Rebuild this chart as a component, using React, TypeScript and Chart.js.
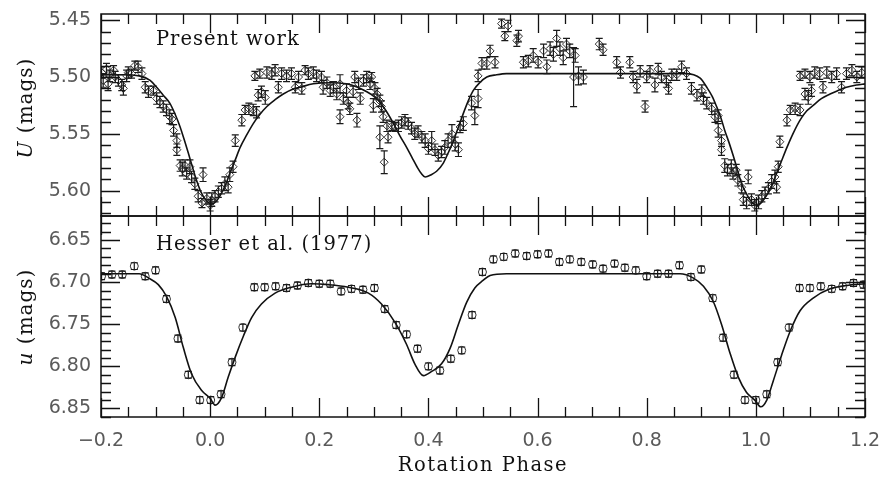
import React, { useEffect, useRef } from 'react';
import { Chart, registerables } from 'chart.js';

Chart.register(...registerables);

// ---------- data ----------
const xTicks = [-0.2, 0, 0.2, 0.4, 0.6, 0.8, 1.0, 1.2];
const topYTicks = [5.45, 5.5, 5.55, 5.6];
const bottomYTicks = [6.65, 6.7, 6.75, 6.8, 6.85];

// [phase, U mag, error]
const presentWork: [number, number, number][] = [
  [-0.199, 5.496, 0.005], [-0.196, 5.503, 0.006], [-0.190, 5.493, 0.005], [-0.187, 5.506, 0.006],
  [-0.184, 5.499, 0.005], [-0.177, 5.494, 0.004], [-0.174, 5.500, 0.005], [-0.168, 5.503, 0.005],
  [-0.162, 5.507, 0.005], [-0.159, 5.510, 0.006], [-0.153, 5.499, 0.005], [-0.150, 5.496, 0.005],
  [-0.144, 5.497, 0.004], [-0.138, 5.490, 0.004], [-0.132, 5.491, 0.005], [-0.125, 5.497, 0.005],
  [-0.119, 5.509, 0.005], [-0.113, 5.513, 0.005], [-0.104, 5.512, 0.004], [-0.098, 5.519, 0.005],
  [-0.092, 5.522, 0.005], [-0.086, 5.526, 0.005], [-0.080, 5.529, 0.005], [-0.074, 5.535, 0.006],
  [-0.070, 5.537, 0.005], [-0.067, 5.547, 0.005], [-0.061, 5.556, 0.006], [-0.061, 5.564, 0.005],
  [-0.055, 5.578, 0.005], [-0.051, 5.581, 0.006], [-0.046, 5.578, 0.005], [-0.043, 5.585, 0.005],
  [-0.037, 5.579, 0.006], [-0.034, 5.588, 0.005], [-0.028, 5.594, 0.005], [-0.022, 5.605, 0.005],
  [-0.015, 5.611, 0.004], [-0.013, 5.586, 0.006], [-0.006, 5.607, 0.005], [0.000, 5.613, 0.005],
  [0.003, 5.608, 0.006], [0.009, 5.605, 0.005], [0.015, 5.601, 0.005], [0.021, 5.598, 0.005],
  [0.027, 5.594, 0.006], [0.033, 5.597, 0.005], [0.036, 5.586, 0.006], [0.042, 5.579, 0.005],
  [0.046, 5.556, 0.005], [0.058, 5.538, 0.005], [0.064, 5.529, 0.004], [0.071, 5.528, 0.005],
  [0.079, 5.529, 0.005], [0.082, 5.499, 0.004], [0.085, 5.531, 0.005], [0.088, 5.516, 0.005],
  [0.091, 5.497, 0.004], [0.094, 5.513, 0.005], [0.101, 5.518, 0.006], [0.104, 5.496, 0.005],
  [0.113, 5.497, 0.005], [0.119, 5.494, 0.005], [0.125, 5.509, 0.005], [0.131, 5.497, 0.005],
  [0.140, 5.499, 0.005], [0.149, 5.497, 0.005], [0.156, 5.509, 0.005], [0.162, 5.500, 0.005],
  [0.168, 5.510, 0.005], [0.174, 5.494, 0.004], [0.180, 5.497, 0.005], [0.189, 5.496, 0.005],
  [0.195, 5.499, 0.005], [0.204, 5.500, 0.005], [0.207, 5.509, 0.006], [0.214, 5.505, 0.005],
  [0.220, 5.512, 0.005], [0.226, 5.509, 0.005], [0.232, 5.515, 0.005], [0.238, 5.506, 0.008],
  [0.238, 5.535, 0.006], [0.244, 5.519, 0.005], [0.250, 5.512, 0.006], [0.253, 5.523, 0.005],
  [0.256, 5.528, 0.005], [0.262, 5.513, 0.005], [0.265, 5.500, 0.005], [0.269, 5.538, 0.006],
  [0.272, 5.506, 0.005], [0.275, 5.519, 0.005], [0.281, 5.503, 0.005], [0.287, 5.500, 0.005],
  [0.293, 5.506, 0.005], [0.296, 5.500, 0.004], [0.299, 5.525, 0.006], [0.302, 5.510, 0.005],
  [0.306, 5.515, 0.005], [0.311, 5.521, 0.005], [0.311, 5.553, 0.010], [0.314, 5.526, 0.005],
  [0.317, 5.535, 0.005], [0.319, 5.575, 0.010], [0.324, 5.543, 0.005], [0.326, 5.553, 0.005],
  [0.333, 5.543, 0.004], [0.339, 5.544, 0.004], [0.345, 5.543, 0.005], [0.351, 5.540, 0.005],
  [0.357, 5.538, 0.005], [0.363, 5.541, 0.005], [0.369, 5.545, 0.005], [0.375, 5.550, 0.005],
  [0.381, 5.548, 0.005], [0.388, 5.553, 0.005], [0.394, 5.556, 0.006], [0.400, 5.563, 0.005],
  [0.406, 5.556, 0.008], [0.412, 5.564, 0.005], [0.418, 5.569, 0.005], [0.424, 5.566, 0.005],
  [0.430, 5.562, 0.006], [0.436, 5.556, 0.006], [0.443, 5.550, 0.008], [0.449, 5.559, 0.006],
  [0.455, 5.564, 0.006], [0.458, 5.544, 0.005], [0.464, 5.541, 0.006], [0.479, 5.523, 0.006],
  [0.485, 5.534, 0.008], [0.491, 5.519, 0.008], [0.491, 5.499, 0.005], [0.498, 5.488, 0.005],
  [0.507, 5.488, 0.005], [0.513, 5.477, 0.005], [0.522, 5.487, 0.005], [0.534, 5.453, 0.004],
  [0.540, 5.464, 0.004], [0.546, 5.455, 0.005], [0.562, 5.468, 0.005], [0.565, 5.464, 0.005],
  [0.574, 5.487, 0.005], [0.583, 5.486, 0.005], [0.592, 5.481, 0.006], [0.601, 5.487, 0.005],
  [0.611, 5.477, 0.006], [0.617, 5.491, 0.006], [0.623, 5.475, 0.006], [0.629, 5.480, 0.006],
  [0.635, 5.466, 0.007], [0.641, 5.475, 0.006], [0.647, 5.483, 0.006], [0.653, 5.471, 0.005],
  [0.659, 5.477, 0.006], [0.666, 5.500, 0.026], [0.669, 5.481, 0.006], [0.675, 5.499, 0.008],
  [0.684, 5.500, 0.006], [0.713, 5.471, 0.005], [0.720, 5.476, 0.005], [0.745, 5.487, 0.005],
  [0.752, 5.496, 0.005], [0.769, 5.487, 0.005], [0.775, 5.500, 0.005], [0.782, 5.508, 0.006],
  [0.788, 5.495, 0.005], [0.797, 5.526, 0.005], [0.800, 5.500, 0.005], [0.806, 5.495, 0.005],
  [0.815, 5.507, 0.006], [0.821, 5.493, 0.005], [0.827, 5.500, 0.005], [0.836, 5.504, 0.005],
  [0.840, 5.510, 0.005], [0.846, 5.498, 0.005], [0.855, 5.498, 0.005], [0.864, 5.491, 0.005],
  [0.873, 5.497, 0.005], [0.882, 5.510, 0.005], [0.892, 5.516, 0.005], [0.901, 5.512, 0.005],
  [0.904, 5.519, 0.005], [0.910, 5.523, 0.005], [0.919, 5.528, 0.005], [0.925, 5.535, 0.005],
  [0.931, 5.534, 0.005], [0.931, 5.547, 0.006], [0.937, 5.556, 0.005], [0.937, 5.564, 0.005],
  [0.943, 5.578, 0.006], [0.948, 5.582, 0.005], [0.955, 5.579, 0.006], [0.958, 5.585, 0.005],
  [0.964, 5.582, 0.005], [0.967, 5.591, 0.005], [0.974, 5.597, 0.005], [0.977, 5.608, 0.005],
  [0.983, 5.611, 0.005], [0.986, 5.588, 0.006], [0.992, 5.608, 0.005], [0.998, 5.613, 0.005],
  [1.005, 5.610, 0.006], [1.011, 5.605, 0.005], [1.017, 5.602, 0.005], [1.023, 5.598, 0.005],
  [1.029, 5.592, 0.006], [1.035, 5.588, 0.006], [1.038, 5.597, 0.005], [1.041, 5.579, 0.005],
  [1.044, 5.557, 0.005], [1.057, 5.538, 0.005], [1.063, 5.529, 0.004], [1.072, 5.528, 0.005],
  [1.081, 5.529, 0.005], [1.081, 5.499, 0.004], [1.090, 5.515, 0.005], [1.090, 5.497, 0.004],
  [1.096, 5.518, 0.006], [1.099, 5.500, 0.005], [1.102, 5.512, 0.005], [1.108, 5.496, 0.005],
  [1.117, 5.497, 0.005], [1.123, 5.509, 0.005], [1.130, 5.496, 0.005], [1.139, 5.500, 0.005],
  [1.148, 5.497, 0.005], [1.157, 5.509, 0.005], [1.166, 5.497, 0.005], [1.176, 5.494, 0.005],
  [1.185, 5.500, 0.005], [1.194, 5.496, 0.005],
];

// [phase, U mag] model curve
const presentModel: [number, number][] = [
  [-0.2, 5.498], [-0.16, 5.498], [-0.13, 5.499], [-0.11, 5.503], [-0.098, 5.509], [-0.086, 5.516],
  [-0.074, 5.523], [-0.064, 5.533], [-0.055, 5.544], [-0.047, 5.556], [-0.040, 5.567], [-0.032, 5.580],
  [-0.025, 5.591], [-0.018, 5.600], [-0.010, 5.607], [0.003, 5.612], [0.012, 5.609], [0.021, 5.602],
  [0.029, 5.594], [0.036, 5.585], [0.046, 5.573], [0.055, 5.562], [0.067, 5.551], [0.079, 5.541],
  [0.091, 5.533], [0.104, 5.526], [0.119, 5.520], [0.134, 5.515], [0.150, 5.511], [0.165, 5.509],
  [0.189, 5.506], [0.220, 5.505], [0.250, 5.506], [0.270, 5.509], [0.287, 5.513], [0.300, 5.517],
  [0.311, 5.522], [0.324, 5.531], [0.336, 5.541], [0.348, 5.552], [0.360, 5.562], [0.370, 5.571],
  [0.379, 5.579], [0.387, 5.585], [0.394, 5.588], [0.405, 5.586], [0.415, 5.583], [0.427, 5.576],
  [0.437, 5.566], [0.446, 5.556], [0.455, 5.544], [0.464, 5.532], [0.473, 5.521], [0.482, 5.512],
  [0.494, 5.505], [0.507, 5.500], [0.525, 5.498], [0.543, 5.497], [0.6, 5.497], [0.7, 5.497],
  [0.8, 5.497], [0.87, 5.497], [0.898, 5.501], [0.910, 5.509], [0.920, 5.517], [0.928, 5.526],
  [0.936, 5.536], [0.943, 5.547], [0.951, 5.558], [0.959, 5.570], [0.967, 5.583], [0.974, 5.594],
  [0.982, 5.602], [0.989, 5.608], [1.002, 5.613], [1.011, 5.610], [1.020, 5.604], [1.029, 5.596],
  [1.038, 5.585], [1.047, 5.574], [1.057, 5.562], [1.069, 5.549], [1.081, 5.538], [1.093, 5.530],
  [1.105, 5.525], [1.120, 5.519], [1.136, 5.515], [1.150, 5.512], [1.166, 5.509], [1.185, 5.507],
  [1.2, 5.506],
];

// [phase, u mag, error]
const hesserData: [number, number, number][] = [
  [-0.199, 6.693, 0.004], [-0.180, 6.691, 0.004], [-0.161, 6.691, 0.004], [-0.139, 6.681, 0.004],
  [-0.119, 6.693, 0.004], [-0.100, 6.686, 0.004], [-0.080, 6.720, 0.004], [-0.059, 6.767, 0.004],
  [-0.040, 6.810, 0.004], [-0.019, 6.840, 0.004], [0.001, 6.840, 0.004], [0.020, 6.833, 0.004],
  [0.040, 6.795, 0.004], [0.060, 6.754, 0.004], [0.081, 6.706, 0.004], [0.100, 6.706, 0.004],
  [0.120, 6.705, 0.004], [0.140, 6.707, 0.004], [0.160, 6.704, 0.004], [0.180, 6.701, 0.004],
  [0.200, 6.702, 0.004], [0.220, 6.702, 0.004], [0.240, 6.711, 0.004], [0.259, 6.708, 0.004],
  [0.280, 6.709, 0.004], [0.301, 6.707, 0.004], [0.320, 6.732, 0.004], [0.341, 6.751, 0.004],
  [0.360, 6.762, 0.004], [0.380, 6.779, 0.004], [0.400, 6.800, 0.004], [0.421, 6.805, 0.004],
  [0.441, 6.791, 0.004], [0.461, 6.781, 0.004], [0.480, 6.739, 0.004], [0.499, 6.688, 0.004],
  [0.519, 6.673, 0.004], [0.538, 6.670, 0.004], [0.559, 6.666, 0.004], [0.580, 6.669, 0.004],
  [0.600, 6.667, 0.004], [0.620, 6.666, 0.004], [0.640, 6.676, 0.004], [0.659, 6.673, 0.004],
  [0.680, 6.676, 0.004], [0.701, 6.679, 0.004], [0.720, 6.684, 0.004], [0.741, 6.678, 0.004],
  [0.760, 6.683, 0.004], [0.780, 6.686, 0.004], [0.800, 6.693, 0.004], [0.820, 6.690, 0.004],
  [0.840, 6.690, 0.004], [0.860, 6.680, 0.004], [0.881, 6.694, 0.004], [0.900, 6.685, 0.004],
  [0.921, 6.719, 0.004], [0.940, 6.766, 0.004], [0.960, 6.810, 0.004], [0.980, 6.840, 0.004],
  [1.000, 6.840, 0.004], [1.020, 6.833, 0.004], [1.040, 6.795, 0.004], [1.061, 6.754, 0.004],
  [1.080, 6.707, 0.004], [1.099, 6.707, 0.004], [1.119, 6.705, 0.004], [1.139, 6.708, 0.004],
  [1.159, 6.705, 0.004], [1.179, 6.701, 0.004], [1.197, 6.703, 0.004],
];

// [phase, u mag] model curve
const hesserModel: [number, number][] = [
  [-0.2, 6.690], [-0.13, 6.690], [-0.113, 6.695], [-0.095, 6.703], [-0.080, 6.717], [-0.064, 6.742],
  [-0.049, 6.778], [-0.034, 6.809], [-0.015, 6.829], [0.000, 6.838], [0.009, 6.846], [0.021, 6.837],
  [0.033, 6.813], [0.046, 6.789], [0.061, 6.764], [0.076, 6.742], [0.094, 6.726], [0.119, 6.713],
  [0.149, 6.706], [0.186, 6.702], [0.217, 6.703], [0.253, 6.706], [0.290, 6.713], [0.314, 6.726],
  [0.339, 6.748], [0.360, 6.774], [0.375, 6.797], [0.391, 6.811], [0.406, 6.806], [0.424, 6.797],
  [0.440, 6.778], [0.455, 6.750], [0.470, 6.724], [0.485, 6.707], [0.500, 6.698], [0.513, 6.692],
  [0.543, 6.690], [0.7, 6.690], [0.861, 6.690], [0.885, 6.695], [0.904, 6.705], [0.922, 6.723],
  [0.937, 6.750], [0.953, 6.785], [0.968, 6.813], [0.983, 6.831], [0.998, 6.840], [1.009, 6.848],
  [1.020, 6.840], [1.032, 6.817], [1.047, 6.787], [1.063, 6.758], [1.081, 6.734], [1.105, 6.719],
  [1.136, 6.708], [1.166, 6.704], [1.2, 6.702],
];

// ---------- layout / styling ----------
const W = 884;
const PLOT_LEFT = 101;
const PLOT_RIGHT = 865;
const SERIF = '"DejaVu Serif", serif';
const SANS = '"DejaVu Sans", sans-serif';

interface PanelCfg {
  top: number;
  height: number;
  areaTop: number;
  areaBottom: number;
  yMin: number;
  yMax: number;
  yTicks: number[];
  points: [number, number, number][];
  model: [number, number][];
  label: string;
  labelBaseline: number;
  titleItalic: string;
  titleRest: string;
  titleCenter: number;
  showX: boolean;
  marker: 'rectRot' | 'circle';
  markerRadius: number;
}

const fmtX = (v: number) => (v < -1e-9 ? '\u2212' : '') + Math.abs(v).toFixed(1);

function makeChart(canvas: HTMLCanvasElement, cfg: PanelCfg) {
  const xAxisH = cfg.top + cfg.height - cfg.areaBottom;
  const framePlugin = {
    id: 'framePlugin',
    afterDatasetsDraw(chart: any) {
      const { ctx, chartArea: a, scales } = chart;
      const xs = scales.x, ys = scales.y;
      ctx.save();
      ctx.beginPath();
      ctx.rect(a.left, a.top, a.right - a.left, a.bottom - a.top);
      ctx.clip();
      ctx.strokeStyle = '#1a1a1a';
      ctx.lineWidth = 1.2;
      for (const [px, py, e] of cfg.points) {
        const x = xs.getPixelForValue(px);
        const y1 = ys.getPixelForValue(py - e);
        const y2 = ys.getPixelForValue(py + e);
        ctx.beginPath();
        ctx.moveTo(x, y1); ctx.lineTo(x, y2);
        ctx.moveTo(x - 3.5, y1); ctx.lineTo(x + 3.5, y1);
        ctx.moveTo(x - 3.5, y2); ctx.lineTo(x + 3.5, y2);
        ctx.stroke();
      }
      ctx.restore();
    },
    afterDraw(chart: any) {
      const { ctx, chartArea: a, scales } = chart;
      const xs = scales.x, ys = scales.y;
      ctx.save();
      ctx.strokeStyle = '#111';
      ctx.lineWidth = 1.5;
      ctx.strokeRect(a.left, a.top, a.right - a.left, a.bottom - a.top);
      ctx.lineWidth = 1.3;
      ctx.beginPath();
      // x ticks: minor every 0.05, major every 0.2
      for (let k = 0; k <= 28; k++) {
        const v = -0.2 + k * 0.05;
        const px = Math.round(xs.getPixelForValue(v)) + 0.5;
        const len = k % 4 === 0 ? 19 : 10;
        ctx.moveTo(px, a.top); ctx.lineTo(px, a.top + len);
        ctx.moveTo(px, a.bottom); ctx.lineTo(px, a.bottom - len);
      }
      // y ticks: minor every 0.01, major every 0.05
      const s = Math.ceil(cfg.yMin * 100 - 1e-6);
      const e = Math.floor(cfg.yMax * 100 + 1e-6);
      for (let m = s; m <= e; m++) {
        const py = Math.round(ys.getPixelForValue(m / 100)) + 0.5;
        const len = m % 5 === 0 ? 19 : 10;
        ctx.moveTo(a.left, py); ctx.lineTo(a.left + len, py);
        ctx.moveTo(a.right, py); ctx.lineTo(a.right - len, py);
      }
      ctx.stroke();

      // panel label
      ctx.fillStyle = '#111';
      (ctx as any).letterSpacing = '1px';
      ctx.font = `19.5px ${SERIF}`;
      ctx.textAlign = 'left';
      ctx.textBaseline = 'alphabetic';
      ctx.fillText(cfg.label, 156, cfg.labelBaseline - cfg.top);

      // y title (rotated, first part italic)
      ctx.save();
      ctx.translate(32, cfg.titleCenter - cfg.top);
      ctx.rotate(-Math.PI / 2);
      const fI = `italic 20px ${SERIF}`;
      const fN = `20px ${SERIF}`;
      ctx.font = fI;
      const w1 = ctx.measureText(cfg.titleItalic).width;
      ctx.font = fN;
      const w2 = ctx.measureText(cfg.titleRest).width;
      const sx = -(w1 + w2) / 2;
      ctx.font = fI;
      ctx.fillText(cfg.titleItalic, sx, 0);
      ctx.font = fN;
      ctx.fillText(cfg.titleRest, sx + w1, 0);
      ctx.restore();

      if (cfg.showX) {
        (ctx as any).letterSpacing = '1.5px';
        ctx.font = `19.5px ${SERIF}`;
        ctx.textAlign = 'center';
        ctx.fillText('Rotation Phase', (PLOT_LEFT + PLOT_RIGHT) / 2, 471 - cfg.top);
      }
      ctx.restore();
    },
  };

  const xScale: any = {
    type: 'linear',
    min: -0.2,
    max: 1.2,
    display: cfg.showX,
    grid: { display: false, drawTicks: false },
    border: { display: false },
    afterBuildTicks: (sc: any) => { sc.ticks = xTicks.map((v) => ({ value: v })); },
    ticks: {
      autoSkip: false,
      maxRotation: 0,
      padding: 13,
      color: '#5a5a5a',
      font: { family: SANS, size: 19 },
      callback: (v: any) => fmtX(Number(v)),
    },
  };
  if (cfg.showX) {
    xScale.afterFit = (sc: any) => {
      sc.height = xAxisH;
      sc.paddingLeft = 0;
      sc.paddingRight = 0;
    };
  }

  return new Chart(canvas, {
    type: 'scatter',
    data: {
      datasets: [
        {
          type: 'line',
          data: cfg.model.map(([x, y]) => ({ x, y })),
          borderColor: '#111',
          borderWidth: 1.6,
          pointRadius: 0,
          cubicInterpolationMode: 'monotone',
          fill: false,
          showLine: true,
        } as any,
        {
          type: 'scatter',
          data: cfg.points.map(([x, y]) => ({ x, y })),
          pointStyle: cfg.marker,
          pointRadius: cfg.markerRadius,
          borderColor: '#333',
          backgroundColor: 'rgba(0,0,0,0)',
          borderWidth: 1,
        } as any,
      ],
    },
    options: {
      animation: false,
      responsive: false,
      events: [],
      layout: {
        padding: {
          left: 0,
          right: W - PLOT_RIGHT,
          top: cfg.areaTop - cfg.top,
          bottom: cfg.showX ? 0 : xAxisH,
        },
      },
      plugins: { legend: { display: false }, tooltip: { enabled: false } },
      scales: {
        x: xScale,
        y: {
          type: 'linear',
          reverse: true,
          min: cfg.yMin,
          max: cfg.yMax,
          grid: { display: false, drawTicks: false },
          border: { display: false },
          afterBuildTicks: (sc: any) => { sc.ticks = cfg.yTicks.map((v) => ({ value: v })); },
          afterFit: (sc: any) => {
            sc.width = PLOT_LEFT;
            sc.paddingTop = 0;
            sc.paddingBottom = 0;
          },
          ticks: {
            autoSkip: false,
            padding: 10,
            color: '#5a5a5a',
            font: { family: SANS, size: 19 },
            callback: (v: any) => Number(v).toFixed(2),
          },
        },
      },
    } as any,
    plugins: [framePlugin],
  });
}

const topCfg: PanelCfg = {
  top: 0, height: 230, areaTop: 14, areaBottom: 216,
  yMin: 5.4445, yMax: 5.6224, yTicks: topYTicks,
  points: presentWork, model: presentModel,
  label: 'Present work', labelBaseline: 45,
  titleItalic: 'U', titleRest: ' (mags)', titleCenter: 108,
  showX: false, marker: 'rectRot', markerRadius: 4,
};

const bottomCfg: PanelCfg = {
  top: 202, height: 278, areaTop: 216, areaBottom: 417,
  yMin: 6.6215, yMax: 6.8601, yTicks: bottomYTicks,
  points: hesserData, model: hesserModel,
  label: 'Hesser et al. (1977)', labelBaseline: 250,
  titleItalic: 'u', titleRest: ' (mags)', titleCenter: 317,
  showX: true, marker: 'circle', markerRadius: 4,
};

export default function App() {
  const topRef = useRef<HTMLCanvasElement>(null);
  const botRef = useRef<HTMLCanvasElement>(null);

  useEffect(() => {
    const c1 = makeChart(topRef.current!, topCfg);
    const c2 = makeChart(botRef.current!, bottomCfg);
    return () => { c1.destroy(); c2.destroy(); };
  }, []);

  return (
    <div style={{ position: 'absolute', left: 0, top: 0, width: W, height: 480, background: '#fff', overflow: 'hidden' }}>
      <canvas ref={topRef} width={W} height={topCfg.height}
        style={{ position: 'absolute', left: 0, top: topCfg.top, width: W, height: topCfg.height }} />
      <canvas ref={botRef} width={W} height={bottomCfg.height}
        style={{ position: 'absolute', left: 0, top: bottomCfg.top, width: W, height: bottomCfg.height }} />
    </div>
  );
}
